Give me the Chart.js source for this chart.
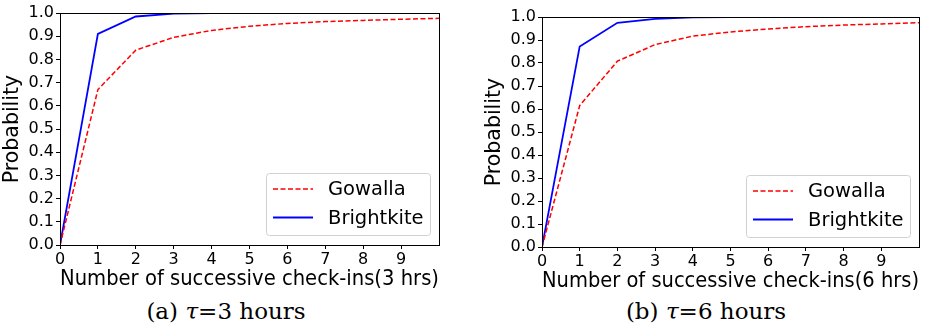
<!DOCTYPE html>
<html>
<head>
<meta charset="utf-8">
<script src="https://cdn.jsdelivr.net/npm/chart.js@4/dist/chart.umd.min.js"></script>
<style>
  html, body { margin: 0; padding: 0; background: #fff; }
  body { width: 936px; height: 330px; position: relative; overflow: hidden; }
  canvas { position: absolute; top: 0; }
  #chart-a { left: 0; }
  #chart-b { left: 468px; }
  .caption {
    position: absolute; top: 298px; width: 468px; text-align: center;
    font-family: 'DejaVu Serif', serif; font-size: 23px; color: #000;
  }
  #cap-a { left: -8px; }
  #cap-b { left: 472px; }
</style>
</head>
<body>
<canvas id="chart-a" width="468" height="292"></canvas>
<canvas id="chart-b" width="468" height="294"></canvas>
<div class="caption" id="cap-a">(a) <i>τ</i>=3 hours</div>
<div class="caption" id="cap-b">(b) <i>τ</i>=6 hours</div>
<script>
// successive check-in counts (x axis)
const STEPS = [0, 1, 2, 3, 4, 5, 6, 7, 8, 9, 10];
const X_TICKS = [0, 1, 2, 3, 4, 5, 6, 7, 8, 9];

// tau = 3 hours
const GOWALLA_3H    = [0, 0.67, 0.84, 0.895, 0.925, 0.943, 0.955, 0.963, 0.968, 0.973, 0.977];
const BRIGHTKITE_3H = [0, 0.91, 0.985, 0.997, 1.0, 1.0, 1.0, 1.0, 1.0, 1.0, 1.0];

// tau = 6 hours
const GOWALLA_6H    = [0, 0.615, 0.808, 0.88, 0.917, 0.935, 0.948, 0.958, 0.965, 0.97, 0.975];
const BRIGHTKITE_6H = [0, 0.872, 0.975, 0.992, 0.998, 1.0, 1.0, 1.0, 1.0, 1.0, 1.0];

const FONT = "'DejaVu Sans', sans-serif";

// box around the whole plot area, like matplotlib spines
const framePlugin = {
  id: 'frame',
  afterDatasetsDraw(chart) {
    const { ctx, chartArea: a } = chart;
    ctx.save();
    ctx.strokeStyle = '#000';
    ctx.lineWidth = 1;
    ctx.strokeRect(Math.round(a.left) + 0.5, Math.round(a.top) + 0.5,
      Math.round(a.right - a.left), Math.round(a.bottom - a.top));
    ctx.restore();
  },
};

// legend drawn inside the lower right corner of the plot
const innerLegend = {
  id: 'innerLegend',
  afterDraw(chart) {
    const { ctx, chartArea: a } = chart;
    const w = 164, h = 62;
    const x = a.right - 9 - w, y = a.bottom - 10 - h;
    ctx.save();
    ctx.beginPath();
    ctx.roundRect(x + 0.5, y + 0.5, w, h, 3);
    ctx.fillStyle = 'rgba(255,255,255,0.8)';
    ctx.fill();
    ctx.strokeStyle = '#d0d0d0';
    ctx.lineWidth = 1;
    ctx.stroke();
    ctx.font = `19.5px ${FONT}`;
    ctx.textBaseline = 'middle';
    chart.data.datasets.forEach((ds, i) => {
      const ly = y + 16 + i * 28.5;
      ctx.beginPath();
      ctx.setLineDash(ds.borderDash || []);
      ctx.strokeStyle = ds.borderColor;
      ctx.lineWidth = ds.borderWidth;
      ctx.moveTo(x + 7, ly);
      ctx.lineTo(x + 47, ly);
      ctx.stroke();
      ctx.setLineDash([]);
      ctx.fillStyle = '#000';
      ctx.fillText(ds.label, x + 62, ly + 1);
    });
    ctx.restore();
  },
};

function createCdfChart(canvas, { gowalla, brightkite, xTitle, padding, xHeight }) {
  const toPoints = arr => arr.map((v, i) => ({ x: STEPS[i], y: v }));
  return new Chart(canvas.getContext('2d'), {
    type: 'line',
    data: {
      datasets: [
        {
          label: 'Gowalla',
          data: toPoints(gowalla),
          borderColor: '#ff0000',
          borderWidth: 1.5,
          borderDash: [5, 2.5],
          pointRadius: 0,
          tension: 0,
        },
        {
          label: 'Brightkite',
          data: toPoints(brightkite),
          borderColor: '#0000ff',
          borderWidth: 1.8,
          pointRadius: 0,
          tension: 0,
        },
      ],
    },
    options: {
      responsive: false,
      animation: false,
      devicePixelRatio: 1,
      layout: { padding },
      plugins: { legend: { display: false }, tooltip: { enabled: false } },
      scales: {
        x: {
          type: 'linear',
          min: 0,
          max: 10,
          afterBuildTicks: scale => {
            scale.ticks = X_TICKS.map(v => ({ value: v }));
          },
          afterFit: scale => { scale.height = xHeight; },
          ticks: { color: '#000', font: { family: FONT, size: 16 }, padding: 1, maxRotation: 0 },
          grid: { drawOnChartArea: false, drawTicks: true, tickLength: 4, color: '#000' },
          border: { color: '#000' },
          title: {
            display: true, text: xTitle, color: '#000',
            font: { family: FONT, size: 20.7 }, padding: { top: 3, bottom: 0 },
          },
        },
        y: {
          min: 0,
          max: 1,
          afterFit: scale => { scale.width = 60; },
          ticks: {
            stepSize: 0.1, color: '#000', padding: 2,
            font: { family: FONT, size: 16 },
            callback: v => v.toFixed(1),
          },
          grid: { drawOnChartArea: false, drawTicks: true, tickLength: 4, color: '#000' },
          border: { color: '#000' },
          title: {
            display: true, text: 'Probability', color: '#000',
            font: { family: FONT, size: 20.5 }, padding: { top: 0, bottom: 0 },
          },
        },
      },
    },
    plugins: [framePlugin, innerLegend],
  });
}

createCdfChart(document.getElementById('chart-a'), {
  gowalla: GOWALLA_3H,
  brightkite: BRIGHTKITE_3H,
  xTitle: 'Number of successive check-ins(3 hrs)',
  padding: { left: 0, top: 13, right: 29, bottom: 0 },
  xHeight: 47,
});

createCdfChart(document.getElementById('chart-b'), {
  gowalla: GOWALLA_6H,
  brightkite: BRIGHTKITE_6H,
  xTitle: 'Number of successive check-ins(6 hrs)',
  padding: { left: 14, top: 17, right: 17, bottom: 0 },
  xHeight: 47,
});
</script>
</body>
</html>
